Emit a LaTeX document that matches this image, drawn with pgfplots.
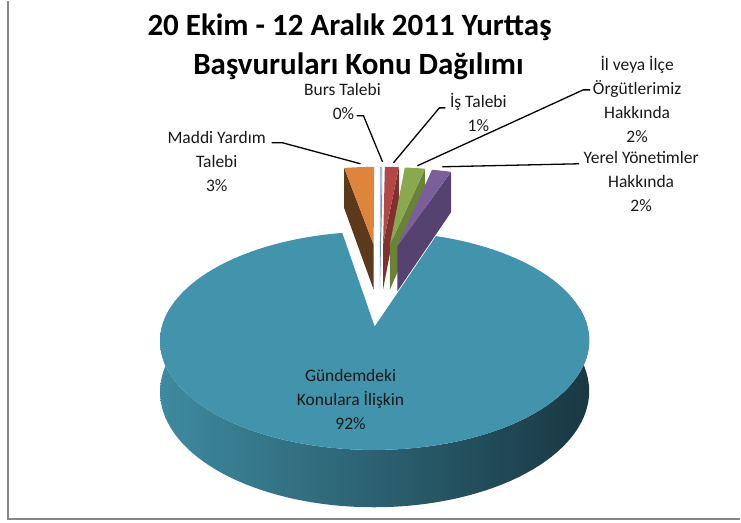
\documentclass[border=0pt]{standalone}
\usepackage{pgfplots}
\pgfplotsset{compat=1.18}
\usepackage{fontspec}
\setmainfont{Carlito}
\definecolor{tealtop}{RGB}{65,148,172}
\definecolor{tealL}{RGB}{62,138,160}
\definecolor{tealR}{RGB}{25,56,66}
\definecolor{orgtop}{RGB}{222,133,60}
\definecolor{orgwall}{RGB}{92,57,26}
\definecolor{bluetop}{RGB}{160,185,220}
\definecolor{bluewall}{RGB}{110,140,180}
\definecolor{redtop}{RGB}{178,72,70}
\definecolor{redwall}{RGB}{128,48,46}
\definecolor{grntop}{RGB}{138,168,78}
\definecolor{grnwall}{RGB}{104,130,56}
\definecolor{purtop}{RGB}{122,95,155}
\definecolor{purwall}{RGB}{86,66,112}
\definecolor{framegray}{RGB}{134,134,134}

% slice values (percent), in Excel order, clockwise from 12 o'clock
\def\vBurs{0.2}
\def\vIs{1.3}
\def\vIl{1.9}
\def\vYerel{1.8}
\def\vGundem{92.0}
\def\vMaddi{2.8}

\pgfmathsetmacro\aA{90}
\pgfmathsetmacro\aB{\aA-3.6*\vBurs}
\pgfmathsetmacro\aC{\aB-3.6*\vIs}
\pgfmathsetmacro\aD{\aC-3.6*\vIl}
\pgfmathsetmacro\aE{\aD-3.6*\vYerel}
\pgfmathsetmacro\aF{\aE-3.6*\vGundem}
\pgfmathsetmacro\aG{\aF-3.6*\vMaddi}
% mid angles and explosion offsets
\pgfmathsetmacro\uBurs{0.35*cos((\aA+\aB)/2)}\pgfmathsetmacro\wBurs{0.55*sin((\aA+\aB)/2)}
\pgfmathsetmacro\uIs{0.35*cos((\aB+\aC)/2)}\pgfmathsetmacro\wIs{0.55*sin((\aB+\aC)/2)}
\pgfmathsetmacro\uIl{0.35*cos((\aC+\aD)/2)}\pgfmathsetmacro\wIl{0.55*sin((\aC+\aD)/2)}
\pgfmathsetmacro\uYerel{0.35*cos((\aD+\aE)/2)}\pgfmathsetmacro\wYerel{0.55*sin((\aD+\aE)/2)}
\pgfmathsetmacro\uGundem{0.3*cos((\aE+\aF)/2)}\pgfmathsetmacro\wGundem{0.3*sin((\aE+\aF)/2)}
\pgfmathsetmacro\uMaddi{0.35*cos((\aF+\aG)/2)}\pgfmathsetmacro\wMaddi{0.55*sin((\aF+\aG)/2)}

% top face: color, ou, ow, t1, t2, M (samples 0..M)
\newcommand{\topface}[6]{%
\addplot[fill=#1, draw=none, variable=\k, samples at={0,1,...,#6}]
({ifthenelse(\k<0.5, PX((#2),(#3)), PX((#2)+cos((#4)+(\k-1)*((#5)-(#4))/(#6-1)), (#3)+sin((#4)+(\k-1)*((#5)-(#4))/(#6-1))))},
 {ifthenelse(\k<0.5, PY((#2),(#3),0), PY((#2)+cos((#4)+(\k-1)*((#5)-(#4))/(#6-1)), (#3)+sin((#4)+(\k-1)*((#5)-(#4))/(#6-1)),0))});
}
% radial wall: color, ou, ow, t
\newcommand{\radwall}[4]{%
\addplot[fill=#1, draw=none, variable=\k, samples at={0,1,2,3}]
({PX((#2)+((\k>0.5)*(\k<2.5))*cos(#4), (#3)+((\k>0.5)*(\k<2.5))*sin(#4))},
 {PY((#2)+((\k>0.5)*(\k<2.5))*cos(#4), (#3)+((\k>0.5)*(\k<2.5))*sin(#4), -(\k>1.5))});
}

\begin{document}
\begin{tikzpicture}
\begin{axis}[
  scale only axis, width=741bp, height=522bp,
  xmin=0, xmax=741, ymin=0, ymax=522, y dir=reverse,
  hide axis, clip=false,
  declare function={
    ps(\w)=1/(1+0.126*\w);
    PX(\u,\w)=380+205*\u*ps(\w);
    PY(\u,\w,\h)=295-(99.5*\w+48*\h)*ps(\w);
    wt(\k)=ifthenelse(\k<80.5,-190+2.5*\k,10-2.5*(\k-81));
  },
]
\path (rel axis cs:0,0) rectangle (rel axis cs:1,1);
% chart area frame
\addplot[draw=framegray, line width=2bp] coordinates {(8.5,0) (8.5,519) (741,519)};

% small exploded slices (back)
\radwall{orgwall}{\uMaddi}{\wMaddi}{\aF}
\topface{orgtop}{\uMaddi}{\wMaddi}{\aG}{\aF}{20}
\radwall{bluewall}{\uBurs}{\wBurs}{\aB}
\topface{bluetop}{\uBurs}{\wBurs}{\aB}{\aA}{6}
\radwall{redwall}{\uIs}{\wIs}{\aC}
\topface{redtop}{\uIs}{\wIs}{\aC}{\aB}{12}
\radwall{grnwall}{\uIl}{\wIl}{\aD}
\topface{grntop}{\uIl}{\wIl}{\aD}{\aC}{16}
\radwall{purwall}{\uYerel}{\wYerel}{\aE}
\topface{purtop}{\uYerel}{\wYerel}{\aE}{\aD}{16}

% big slice: front wall then top face
\addplot[draw=none, shading=axis, left color=tealL, right color=tealR, variable=\k, samples at={0,1,...,161}]
({PX(\uGundem+cos(wt(\k)), \wGundem+sin(wt(\k)))},
 {PY(\uGundem+cos(wt(\k)), \wGundem+sin(wt(\k)), -(\k>80.5))});
\topface{tealtop}{\uGundem}{\wGundem}{\aF}{\aE}{121}

% leader lines
\addplot[black, line width=1.3bp] coordinates {(272,142) (283,142) (361,163)};
\addplot[black, line width=1.3bp] coordinates {(357,115) (364,115) (383,161)};
\addplot[black, line width=1.3bp] coordinates {(446,107) (440,107) (394,162)};
\addplot[black, line width=1.3bp] coordinates {(591,89) (584,89) (418,165)};
\addplot[black, line width=1.3bp] coordinates {(580,163) (443,166)};

% title
\node[inner sep=0pt, font=\bfseries\fontsize{31bp}{38bp}\selectfont, anchor=base] at (axis cs:350,35) {20 Ekim - 12 Aralık 2011 Yurttaş};
\node[inner sep=0pt, font=\bfseries\fontsize{31bp}{38bp}\selectfont, anchor=base] at (axis cs:359,74) {Başvuruları Konu Dağılımı};

% data labels
\begin{scope}[every node/.style={font=\fontsize{17.5bp}{24bp}\selectfont, align=center, text=black!90}]
\node at (axis cs:217,161) {Maddi Yardım\\Talebi\\3\%};
\node[inner sep=0pt, anchor=base] at (axis cs:343,95) {Burs Talebi};
\node[inner sep=0pt, anchor=base] at (axis cs:344,119) {0\%};
\node at (axis cs:479,112) {İş Talebi\\1\%};
\node at (axis cs:638,99) {İl veya İlçe\\Örgütlerimiz\\Hakkında\\2\%};
\node at (axis cs:642,181) {Yerel Yönetimler\\Hakkında\\2\%};
\node at (axis cs:351,399) {Gündemdeki\\Konulara İlişkin\\92\%};
\end{scope}
\end{axis}
\end{tikzpicture}
\end{document}
